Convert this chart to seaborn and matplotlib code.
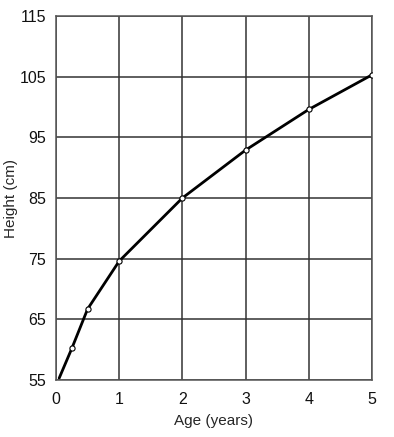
import matplotlib
matplotlib.use("Agg")
import matplotlib.pyplot as plt
import seaborn as sns
import pandas as pd

# values
age_years = [0.05, 0.25, 0.5, 1, 2, 3, 4, 5]
height_cm = [55.3, 60.2, 66.7, 74.6, 85.0, 92.9, 99.6, 105.3]
marker_age = [0.25, 0.5, 1, 2, 3, 4, 5]
marker_height = [60.2, 66.7, 74.6, 85.0, 92.9, 99.6, 105.3]
x_ticks = [0, 1, 2, 3, 4, 5]
y_ticks = [55, 65, 75, 85, 95, 105, 115]

sns.set_style("white")
plt.rcParams['font.family'] = ['Liberation Sans', 'DejaVu Sans']

df = pd.DataFrame({"age": age_years, "height": height_cm})
pts = pd.DataFrame({"age": marker_age, "height": marker_height})

fig = plt.figure(figsize=(3.94, 4.37), dpi=100)
ax = fig.add_axes([56 / 394, 1 - 380 / 437, 316 / 394, 364 / 437])

sns.lineplot(data=df, x="age", y="height", ax=ax, color="black", linewidth=2.0)
sns.scatterplot(data=pts, x="age", y="height", ax=ax, s=14, facecolor="white",
                edgecolor="black", linewidth=0.8, zorder=5)

ax.set_xlim(0, 5)
ax.set_ylim(55, 115)
ax.set_xticks(x_ticks)
ax.set_yticks(y_ticks)
ax.grid(True, color="#333333", linewidth=1.1)
ax.set_axisbelow(True)
for s in ax.spines.values():
    s.set_color("#555555")
    s.set_linewidth(1.1)
ax.tick_params(length=0, labelsize=11.5, colors="#111111")
ax.tick_params(axis="x", pad=9)
ax.tick_params(axis="y", pad=7)
ax.set_xlabel("Age (years)", fontsize=11, labelpad=5)
ax.set_ylabel("Height (cm)", fontsize=11, labelpad=1)

fig.savefig("out.png", dpi=100)
